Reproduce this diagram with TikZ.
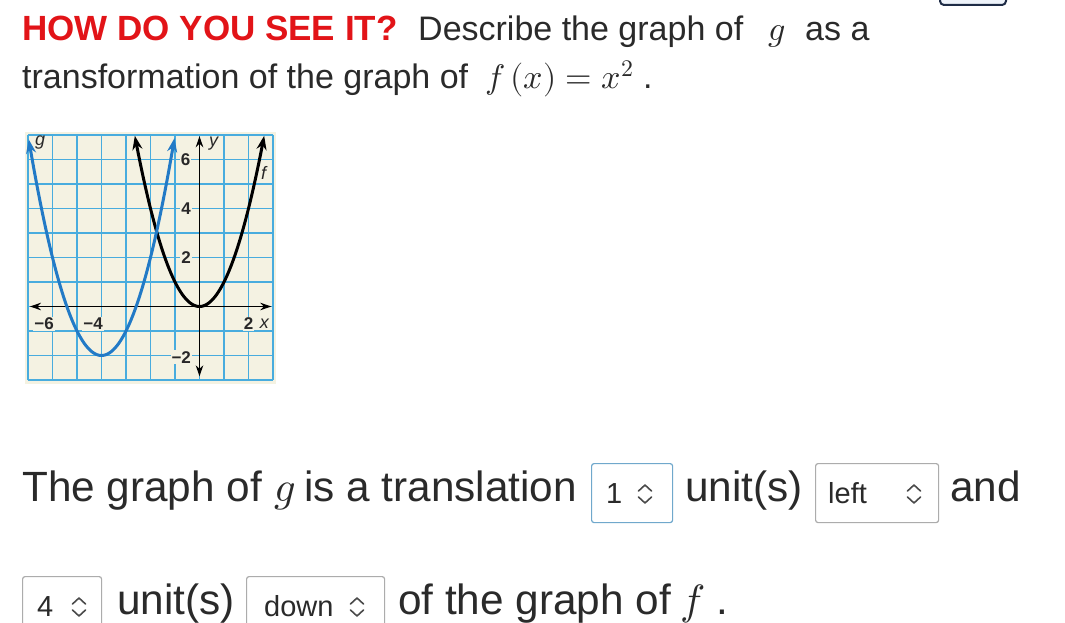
\documentclass[tikz,border=0pt]{standalone}
\usepackage{fontspec}
\usepackage{unicode-math}
\setmainfont{Liberation Sans}
\setmathfont{Latin Modern Math}
\usetikzlibrary{arrows.meta}
\definecolor{txt}{RGB}{42,42,42}
\definecolor{hred}{RGB}{226,20,24}
\definecolor{gridblue}{RGB}{72,172,222}
\definecolor{gblue}{RGB}{34,122,198}
\definecolor{paper}{RGB}{244,242,226}
\definecolor{boxblue}{RGB}{112,168,204}
\definecolor{boxgray}{RGB}{172,172,172}
\definecolor{navy}{RGB}{30,44,70}
\definecolor{pale}{RGB}{238,243,250}
\definecolor{labc}{RGB}{40,40,40}
\tikzset{
  body/.style={anchor=base west, text=txt, inner sep=0pt, font=\fontsize{34}{40}\selectfont},
  big/.style={anchor=base west, text=txt, inner sep=0pt, font=\fontsize{42.3}{48}\selectfont},
  selbox/.style={draw=boxgray, line width=1.2pt, rounded corners=2.5pt, fill=white, inner sep=0pt},
  seltext/.style={anchor=base west, inner sep=0pt, text=txt, font=\fontsize{29}{34}\selectfont},
  chev/.style={draw=txt!85, line width=1.6pt, line cap=round, line join=round},
  updown/.pic={
    \draw[chev] (-6.5,-3) -- (0,-9) -- (6.5,-3);
    \draw[chev] (-6.5,3) -- (0,9) -- (6.5,3);
  },
  glab/.style={inner sep=1pt, text=labc, font=\fontsize{17}{19}\selectfont\bfseries},
  axisline/.style={draw=black, line width=1.1pt, {Stealth[length=11pt,width=7.5pt]}-{Stealth[length=11pt,width=7.5pt]}},
  curve/.style={line width=3pt, {Stealth[length=14pt,width=10pt]}-{Stealth[length=14pt,width=10pt]}},
}
\begin{document}
\begin{tikzpicture}[x=1pt,y=-1pt]
\useasboundingbox (0,0) rectangle (1065,623);
\fill[white] (0,0) rectangle (1065,623);
% top-right partial button
\draw[navy, line width=2pt, fill=pale, rounded corners=4pt] (940,-12) rectangle (1006,5);
% line 1
\node[body, text=hred, font=\fontsize{35}{40}\selectfont\bfseries] (h) at (22,41) {HOW DO YOU SEE IT?};
\node[body] (d1) at (418,41) {Describe the graph of};
\node[body] (g1) at (768,41) {$g$};
\node[body] (a1) at (805,41) {as a};
% line 2
\node[body] (t2) at (22,89) {transformation of the graph of};
\node[body] (m2) at (485,89) {$f\left(x\right)=x^{2}$ .};
% graph
\begin{scope}[shift={(199.5,306.5)}, x=24.5pt, y=24.5pt]
  \fill[paper] (-7.12,-3.17) rectangle (3.12,7.12);
  \draw[gridblue, line width=1.4pt, step=1] (-7,-3) grid (3,7);
  \coordinate (xl) at (-6.92,0);
  \coordinate (xr) at (2.93,0);
  \coordinate (yb) at (0,-2.85);
  \coordinate (yt) at (0,6.95);
  \draw[axisline] (xl) -- (xr);
  \draw[axisline] (yb) -- (yt);
  \node[glab, fill=paper] (y6) at (-0.57,6) {6};
  \node[glab, fill=paper] (y4) at (-0.55,4) {4};
  \node[glab, fill=paper] (y2) at (-0.55,2) {2};
  \node[glab, fill=paper, anchor=east] (ym2) at (-0.3,-2.07) {−2};
  \node[glab, fill=paper, anchor=east] (xm6) at (-5.9,-0.7) {−6};
  \node[glab, fill=paper, anchor=east] (xm4) at (-3.9,-0.7) {−4};
  \node[glab, fill=paper] (x2) at (2,-0.7) {2};
  \node[glab, font=\fontsize{18}{19}\selectfont\itshape] (xlab) at (2.65,-0.7) {x};
  \node[glab, font=\fontsize{18}{19}\selectfont\itshape] (ylab) at (0.58,6.65) {y};
  \node[glab, font=\fontsize{18}{19}\selectfont\itshape] (glab) at (-6.5,6.7) {g};
  \node[glab, font=\fontsize{18}{19}\selectfont\itshape] (flab) at (2.62,5.45) {f};
  \draw[curve, black] plot[domain=-2.64:2.64, samples=80, smooth] (\x,{\x*\x});
  \draw[curve, gblue] plot[domain=-6.97:-1.02, samples=80, smooth] (\x,{(\x+4)*(\x+4)-2});
\end{scope}
% line 3
\node[big] (t3) at (22,501) {The graph of};
\node[big] (g3) at (274,501) {$g$};
\node[big] (u3) at (304,501) {is a translation};
\node[selbox, draw=boxblue, minimum width=81pt, minimum height=59pt, anchor=north west] (b1) at (591,463) {};
\node[seltext] (n1) at (606,503) {1};
\pic at (645,494) {updown};
\node[big] (un3) at (685,501) {unit(s)};
\node[selbox, minimum width=123pt, minimum height=59pt, anchor=north west] (b2) at (815,463) {};
\node[seltext] (lf) at (828,503) {left};
\pic at (914,494) {updown};
\node[big] (and) at (950,501) {and};
% line 4
\node[selbox, minimum width=79pt, minimum height=59pt, anchor=north west] (b3) at (22,576) {};
\node[seltext] (n4) at (37,616) {4};
\pic at (79,607) {updown};
\node[big] (un4) at (117,614) {unit(s)};
\node[selbox, minimum width=138pt, minimum height=59pt, anchor=north west] (b4) at (246,576) {};
\node[seltext] (dn) at (264,616) {down};
\pic at (357,607) {updown};
\node[big] (of4) at (398,614) {of the graph of};
\node[big] (f4) at (680,614) {$f$ .};
\end{tikzpicture}
\end{document}
